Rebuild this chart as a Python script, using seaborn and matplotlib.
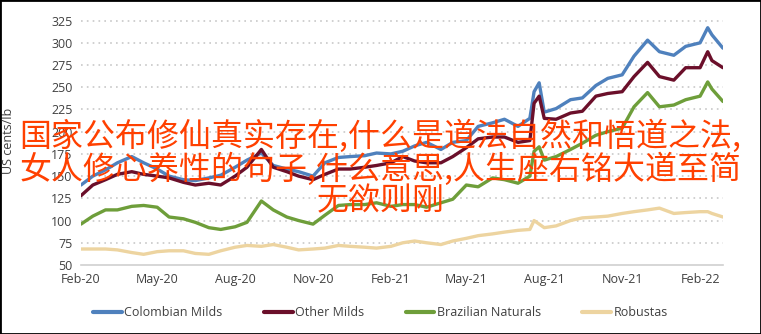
import matplotlib
matplotlib.use("Agg")
import matplotlib.pyplot as plt
import matplotlib.dates as mdates
from matplotlib.patches import Rectangle
import pandas as pd
import seaborn as sns

dates = [
    "2020-02-01", "2020-02-15", "2020-03-01", "2020-03-15", "2020-04-01", "2020-04-15",
    "2020-05-01", "2020-05-15", "2020-06-01", "2020-06-15", "2020-07-01", "2020-07-15",
    "2020-08-01", "2020-08-15", "2020-09-01", "2020-09-15", "2020-10-01", "2020-10-15",
    "2020-11-01", "2020-11-15", "2020-12-01", "2020-12-15", "2021-01-01", "2021-01-15",
    "2021-02-01", "2021-02-15", "2021-03-01", "2021-03-15", "2021-04-01", "2021-04-15",
    "2021-05-01", "2021-05-15", "2021-06-01", "2021-06-15", "2021-07-01", "2021-07-15",
    "2021-07-20", "2021-07-26", "2021-08-01", "2021-08-15", "2021-09-01", "2021-09-15",
    "2021-10-01", "2021-10-15", "2021-11-01", "2021-11-15", "2021-12-01", "2021-12-15",
    "2022-01-01", "2022-01-15", "2022-02-01", "2022-02-10", "2022-02-15", "2022-02-28",
]

colombian_milds = [
    140, 150, 157, 165, 172, 165, 158, 150, 146, 145, 148, 151,
    160, 168, 176, 162, 158, 155, 150, 165, 171, 172, 173, 176,
    175, 178, 184, 188, 180, 188, 190, 206, 210, 214, 206, 215,
    245, 255, 222, 226, 236, 238, 252, 260, 264, 285, 303, 290,
    286, 296, 300, 317, 309, 294,
]
other_milds = [
    128, 140, 146, 152, 155, 152, 150, 148, 143, 140, 142, 140,
    150, 160, 180, 160, 155, 150, 146, 152, 158, 158, 160, 162,
    165, 172, 167, 165, 165, 172, 182, 192, 194, 194, 188, 190,
    232, 240, 215, 214, 221, 223, 240, 243, 245, 262, 278, 262,
    258, 272, 272, 290, 280, 272,
]
brazilian_naturals = [
    96, 105, 112, 112, 116, 117, 115, 104, 102, 98, 92, 90,
    93, 98, 122, 112, 104, 100, 96, 106, 117, 118, 118, 120,
    116, 118, 118, 115, 120, 124, 140, 138, 148, 146, 142, 150,
    178, 183, 168, 172, 180, 187, 196, 200, 204, 228, 244, 228,
    230, 236, 240, 256, 248, 234,
]
robustas = [
    68, 68, 68, 67, 64, 62, 65, 66, 66, 63, 62, 66,
    70, 72, 71, 73, 70, 67, 68, 69, 72, 71, 70, 69,
    71, 75, 77, 75, 73, 77, 80, 83, 85, 87, 89, 90,
    100, 96, 92, 94, 100, 103, 104, 105, 108, 110, 112, 114,
    108, 109, 110, 110, 108, 104,
]

series_names = ["Colombian Milds", "Other Milds", "Brazilian Naturals", "Robustas"]
series_colors = ["#4F81BD", "#6B0F2A", "#6E9E3A", "#EDD4A0"]
y_ticks = [50, 75, 100, 125, 150, 175, 200, 225, 250, 275, 300, 325]
y_label = "US cents/lb"
overlay_lines = [
    "国家公布修仙真实存在,什么是道法自然和悟道之法,",
    "女人修心养性的句子,什么意思,人生座右铭大道至简",
    "无欲则刚",
]

frames = []
for name, vals in zip(series_names, [colombian_milds, other_milds, brazilian_naturals, robustas]):
    frames.append(pd.DataFrame({"date": pd.to_datetime(dates), "value": vals, "series": name}))
df = pd.concat(frames, ignore_index=True)

sns.set_theme(style="white")
plt.rcParams["font.family"] = ["Open Sans", "DejaVu Sans"]

fig = plt.figure(figsize=(7.61, 3.34), dpi=100)
ax = fig.add_axes([0.1064, 0.2066, 0.8436, 0.745])

sns.lineplot(data=df, x="date", y="value", hue="series", hue_order=series_names,
             palette=series_colors, linewidth=2.4, ax=ax, legend=True)

ax.set_xlim(pd.Timestamp("2020-02-01"), pd.Timestamp("2022-02-28"))
ax.set_ylim(50, 330)
ax.set_yticks(y_ticks)
ax.xaxis.set_major_locator(mdates.MonthLocator(bymonth=[2, 5, 8, 11]))
ax.xaxis.set_major_formatter(mdates.DateFormatter("%b-%y"))
ax.tick_params(axis="both", labelsize=9, colors="#404040", length=0, pad=6)
ax.set_xlabel("")
ax.set_ylabel(y_label, fontsize=9, color="#404040")
ax.yaxis.set_label_coords(-0.102, 0.5)

for t in y_ticks[1:]:
    ax.axhline(t, color="#c8c8c8", linestyle=(0, (1, 2.5)), linewidth=1.2, zorder=0)
for s in ["top", "right", "left"]:
    ax.spines[s].set_visible(False)
ax.spines["bottom"].set_color("#d0d0d0")
ax.spines["bottom"].set_linewidth(1.2)

handles, labels = ax.get_legend_handles_labels()
ax.get_legend().remove()
leg = fig.legend(handles, labels, loc="center", bbox_to_anchor=(0.5, 0.063), ncol=4,
                 frameon=False, fontsize=9, handlelength=2.3, handletextpad=0.2,
                 columnspacing=3.3)
for line in leg.get_lines():
    line.set_linewidth(3)
for txt in leg.get_texts():
    txt.set_color("#404040")

ys = [1 - 136 / 334, 1 - 169 / 334, 1 - 201 / 334]
for line_text, yy in zip(overlay_lines, ys):
    fig.text(0.5, yy, line_text, ha="center", va="center", fontsize=23, fontweight="medium",
             color="#FF4000", family=["Noto Sans CJK SC", "DejaVu Sans"], zorder=10)

fig.patches.append(Rectangle((0, 0), 1, 1, transform=fig.transFigure, fill=False,
                             edgecolor="black", linewidth=2, zorder=20))

fig.savefig("out.png", dpi=100)
